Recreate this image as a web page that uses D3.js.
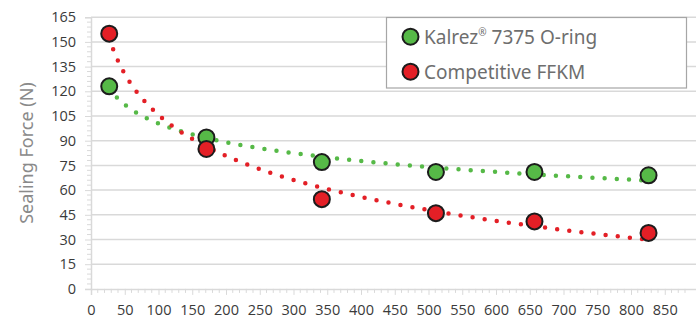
<!DOCTYPE html>
<html><head><meta charset="utf-8">
<script src="https://cdn.jsdelivr.net/npm/d3@7/dist/d3.min.js"></script>
<style>html,body{margin:0;padding:0;background:#fff;}svg{display:block;}</style>
</head><body>
<svg id="chart" width="696" height="326"></svg>
<script>
// ---- data ----
const hours = [27, 171, 342, 511, 657, 826];
const kalrez = [123, 92, 77, 71, 71, 69];
const competitive = [155, 85, 54.5, 46, 41, 34];
const seriesNames = ["Kalrez\u00AE 7375 O-ring", "Competitive FFKM"];
const seriesColors = ["#56b947", "#e31f26"];
const yTicks = [0, 15, 30, 45, 60, 75, 90, 105, 120, 135, 150, 165];
const xTicks = [0, 50, 100, 150, 200, 250, 300, 350, 400, 450, 500, 550, 600, 650, 700, 750, 800, 850];
const yTitle = "Sealing Force (N)";

const svg = d3.select("#chart");
const x = d3.scaleLinear().domain([0, 900]).range([91, 698.5]);
const y = d3.scaleLinear().domain([0, 165]).range([288.9, 17.2]);

const grid = "#d9d9d9";
// gridlines
svg.append("g").selectAll("line").data(yTicks.filter(d => d > 0)).join("line")
  .attr("x1", x(0)).attr("x2", 696).attr("y1", d => y(d)).attr("y2", d => y(d))
  .attr("stroke", grid).attr("stroke-width", 1.5);

// y axis
const yAxis = d3.axisLeft(y).tickValues(yTicks).tickSize(6).tickPadding(9);
const gy = svg.append("g").attr("transform", `translate(${x(0)},0)`).call(yAxis);
gy.select(".domain").attr("stroke", grid).attr("stroke-width", 1.5);
gy.selectAll(".tick line").attr("stroke", grid).attr("stroke-width", 1);
gy.selectAll(".tick text").attr("font-family", "Open Sans").attr("font-size", 14.5).attr("fill", "#3a3a3a");
const yMinor = d3.range(0, 166, 3).filter(d => d % 15 !== 0);
svg.append("g").selectAll("line").data(yMinor).join("line")
  .attr("x1", x(0) - 4).attr("x2", x(0)).attr("y1", d => y(d)).attr("y2", d => y(d))
  .attr("stroke", grid).attr("stroke-width", 1);

// x axis
const xAxis = d3.axisBottom(x).tickValues(xTicks).tickSize(6).tickPadding(10);
const gx = svg.append("g").attr("transform", `translate(0,${y(0)})`).call(xAxis);
gx.select(".domain").attr("stroke", grid).attr("stroke-width", 1.5);
gx.selectAll(".tick line").attr("stroke", grid).attr("stroke-width", 1);
gx.selectAll(".tick text").attr("font-family", "Open Sans").attr("font-size", 14.5).attr("fill", "#3a3a3a");
const xMinor = d3.range(0, 881, 10).filter(d => d % 50 !== 0);
svg.append("g").selectAll("line").data(xMinor).join("line")
  .attr("x1", d => x(d)).attr("x2", d => x(d)).attr("y1", y(0)).attr("y2", y(0) + 4)
  .attr("stroke", grid).attr("stroke-width", 1);

// y title
svg.append("text").attr("transform", `translate(33,${(y(0)+y(165))/2}) rotate(-90)`)
  .attr("text-anchor", "middle").attr("font-family", "Noto Sans").attr("font-size", 18)
  .attr("fill", "#8a8a8a").text(yTitle);

// logarithmic trendlines (least squares y = a + b ln x), as in the source chart
function logFit(xs, ys) {
  const lx = xs.map(Math.log);
  const mx = d3.mean(lx), my = d3.mean(ys);
  const b = d3.sum(lx, (v, i) => (v - mx) * (ys[i] - my)) / d3.sum(lx, v => (v - mx) ** 2);
  return v => my + b * (Math.log(v) - mx);
}
const series = [kalrez, competitive];
const line = d3.line().x(d => x(d[0])).y(d => y(d[1])).curve(d3.curveLinear);
series.forEach((vals, si) => {
  const f = logFit(hours, vals);
  const xs = d3.range(hours[0], hours[hours.length - 1] + 0.01, 2);
  svg.append("path").datum(xs.map(v => [v, f(v)])).attr("d", line)
    .attr("fill", "none").attr("stroke", seriesColors[si]).attr("stroke-width", 4.5)
    .attr("stroke-linecap", "round").attr("stroke-dasharray", "0 12.2");
});

// markers
series.forEach((vals, si) => {
  svg.append("g").selectAll("circle").data(vals).join("circle")
    .attr("cx", (d, i) => x(hours[i])).attr("cy", d => y(d)).attr("r", 8)
    .attr("fill", seriesColors[si]).attr("stroke", "#1c1c1c").attr("stroke-width", 2);
});

// legend
const lg = svg.append("g");
lg.append("rect").attr("x", 386.5).attr("y", 17.5).attr("width", 300).attr("height", 70.5)
  .attr("fill", "#fff").attr("stroke", "#a6a6a6").attr("stroke-width", 1.2);
seriesNames.forEach((name, i) => {
  const cy = 36.7 + i * 35;
  lg.append("circle").attr("cx", 410.5).attr("cy", cy).attr("r", 8)
    .attr("fill", seriesColors[i]).attr("stroke", "#1c1c1c").attr("stroke-width", 2);
  const t = lg.append("text").attr("x", 424).attr("y", cy + 7).attr("font-family", "Noto Sans")
    .attr("font-size", 19).attr("fill", "#6e6e6e");
  if (i === 0) {
    t.append("tspan").text("Kalrez");
    t.append("tspan").attr("font-size", 10).attr("dy", -8).text("\u00AE");
    t.append("tspan").attr("dy", 8).text(" 7375 O-ring");
  } else {
    t.text(name);
  }
});
</script>
</body></html>
